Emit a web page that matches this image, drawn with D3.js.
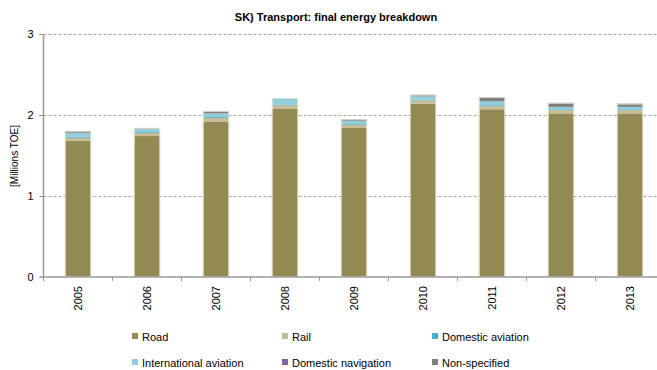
<!DOCTYPE html>
<html>
<head>
<meta charset="utf-8">
<script src="https://cdn.jsdelivr.net/npm/d3@7"></script>
<style>
  body { margin: 0; background: #fff; }
  svg { display: block; font-family: "Liberation Sans", Arial, sans-serif; }
</style>
</head>
<body>
<svg id="chart" width="657" height="370"></svg>
<script>
// Slovakia transport final energy consumption, Mtoe
const years = ["2005", "2006", "2007", "2008", "2009", "2010", "2011", "2012", "2013"];
const road = [1.68, 1.74, 1.92, 2.08, 1.84, 2.14, 2.07, 2.02, 2.02];
const rail = [0.04, 0.04, 0.045, 0.04, 0.04, 0.04, 0.04, 0.04, 0.04];
const domesticAviation = [0.01, 0.01, 0.01, 0.01, 0.01, 0.01, 0.01, 0.01, 0.01];
const internationalAviation = [0.05, 0.04, 0.045, 0.08, 0.04, 0.04, 0.05, 0.03, 0.03];
const domesticNavigation = [0, 0, 0, 0, 0, 0, 0, 0, 0];
const nonSpecified = [0.02, 0.01, 0.03, 0, 0.02, 0.02, 0.05, 0.05, 0.04];
const yTicks = [0, 1, 2, 3];

const seriesNames = ["Road", "Rail", "Domestic aviation", "International aviation", "Domestic navigation", "Non-specified"];
const seriesValues = [road, rail, domesticAviation, internationalAviation, domesticNavigation, nonSpecified];
const colors = ["#938953", "#c4bd97", "#4bacc6", "#92cddc", "#8064a2", "#7f7f7f"];

const rows = years.map((yr, i) => {
  const r = { year: yr };
  seriesNames.forEach((s, k) => r[s] = seriesValues[k][i]);
  return r;
});

const svg = d3.select("#chart");
const plotLeft = 43.5, plotBottom = 277, plotTop = 34;
const step = 69;

const x = d3.scaleBand().domain(years).range([plotLeft, plotLeft + step * years.length]).paddingInner(0.62).paddingOuter(0.31);
const y = d3.scaleLinear().domain([0, 3]).range([plotBottom, plotTop]);

// gridlines
svg.append("g").selectAll("line").data(yTicks.filter(d => d > 0)).join("line")
  .attr("x1", plotLeft).attr("x2", 657)
  .attr("y1", d => Math.round(y(d)) + 0.5).attr("y2", d => Math.round(y(d)) + 0.5)
  .attr("stroke", "#a6a6a6").attr("stroke-width", 1).attr("stroke-dasharray", "3,2");

// stacked bars
const stack = d3.stack().keys(seriesNames)(rows);
svg.append("g").selectAll("g").data(stack).join("g")
  .attr("fill", (d, i) => colors[i])
  .selectAll("rect").data(d => d).join("rect")
  .attr("x", d => x(d.data.year))
  .attr("width", x.bandwidth())
  .attr("y", d => y(d[1]))
  .attr("height", d => Math.max(0, y(d[0]) - y(d[1])));

// bar outlines
svg.append("g").selectAll("rect").data(rows).join("rect")
  .attr("x", d => x(d.year) + 0.5)
  .attr("width", x.bandwidth() - 1)
  .attr("y", d => y(d3.sum(seriesNames, s => d[s])) + 0.5)
  .attr("height", d => plotBottom - y(d3.sum(seriesNames, s => d[s])) - 1)
  .attr("fill", "none").attr("stroke", "#e4e1cf").attr("stroke-width", 0.8);

// y axis
const yAxis = svg.append("g").attr("transform", `translate(${plotLeft},0)`)
  .call(d3.axisLeft(y).tickValues(yTicks).tickFormat(d3.format("d")).tickSize(4).tickPadding(6));
yAxis.select(".domain").attr("stroke", "#9a9a9a").attr("stroke-width", 1.5)
  .attr("d", `M0,${plotBottom}V${plotTop}`);
yAxis.selectAll(".tick line").attr("stroke", "#9a9a9a");
yAxis.selectAll(".tick text").attr("font-size", 11).attr("fill", "#000")
  .attr("font-family", "Liberation Sans, Arial, sans-serif");

// x axis
const xAxis = svg.append("g").attr("transform", `translate(0,${plotBottom})`);
xAxis.append("line").attr("x1", plotLeft - 4).attr("x2", 657).attr("y1", 0).attr("y2", 0)
  .attr("stroke", "#9a9a9a").attr("stroke-width", 1.5);
xAxis.selectAll(".sep").data(d3.range(years.length + 1)).join("line")
  .attr("class", "sep")
  .attr("x1", i => plotLeft + i * x.step()).attr("x2", i => plotLeft + i * x.step())
  .attr("y1", 0).attr("y2", 4).attr("stroke", "#9a9a9a");
xAxis.selectAll(".lab").data(years).join("text")
  .attr("class", "lab")
  .attr("transform", d => `translate(${x(d) + x.bandwidth() / 2 + 4},9) rotate(-90)`)
  .attr("text-anchor", "end")
  .attr("font-size", 11).attr("fill", "#000")
  .text(d => d);

// title
svg.append("text").attr("x", 336).attr("y", 21).attr("text-anchor", "middle")
  .attr("font-size", 11).attr("font-weight", "bold").attr("fill", "#000")
  .text("SK) Transport: final energy breakdown");

// y label
svg.append("text").attr("transform", "translate(18,156) rotate(-90)")
  .attr("text-anchor", "middle").attr("font-size", 10).attr("fill", "#000")
  .text("[Millions TOE]");

// legend
const legendPos = [[132, 337], [282, 337], [432, 337], [132, 363], [282, 363], [432, 363]];
const lg = svg.append("g").selectAll("g").data(seriesNames).join("g")
  .attr("transform", (d, i) => `translate(${legendPos[i][0]},${legendPos[i][1]})`);
lg.append("rect").attr("x", 0).attr("y", -4).attr("width", 6).attr("height", 6)
  .attr("fill", (d, i) => colors[i]);
lg.append("text").attr("x", 10).attr("y", 0).attr("dy", "0.35em")
  .attr("font-size", 11).attr("fill", "#000").text(d => d);
</script>
</body>
</html>
